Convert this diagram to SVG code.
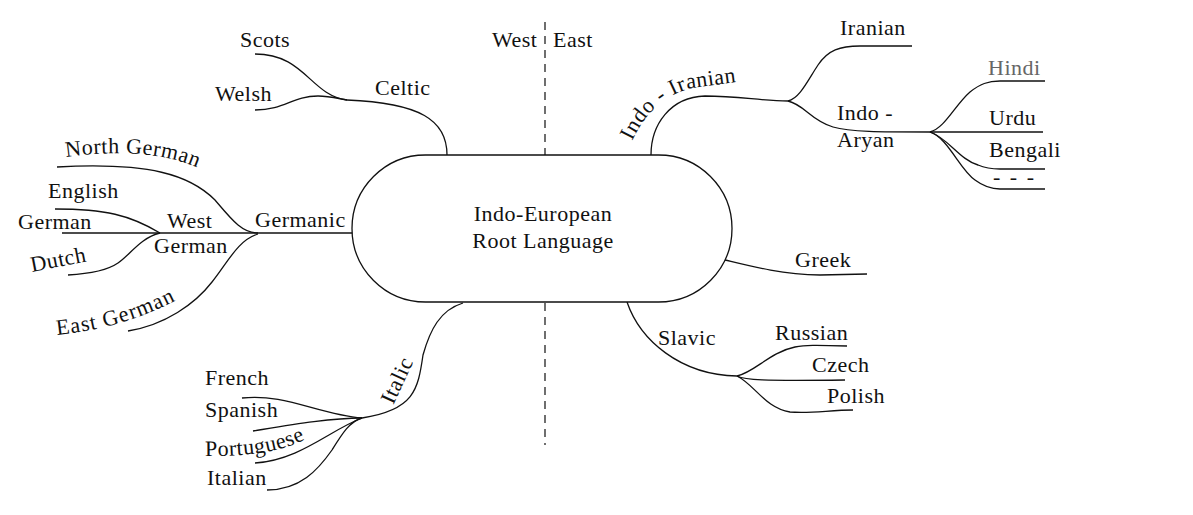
<svg xmlns="http://www.w3.org/2000/svg" xmlns:xlink="http://www.w3.org/1999/xlink" width="1193" height="515" viewBox="0 0 1193 515">
<style>
  text { font-family: "Liberation Serif", "Times New Roman", serif; font-size: 22px; letter-spacing: 0.5px; fill: #111; }
  .ln { fill: none; stroke: #111; stroke-width: 1.3; }
  .dash { fill: none; stroke: #222; stroke-width: 1.3; stroke-dasharray: 8 6; }
  .root { fill: #fff; stroke: #111; stroke-width: 1.3; }
  .mid { text-anchor: middle; }
</style>
<defs>
  <path id="pNorth" d="M 66 157 C 110 151, 165 150, 207 172"/>
  <path id="pEast" d="M 57 335 C 92 331, 135 324, 192 292"/>
  <path id="pPort" d="M 205 456 C 240 456, 278 455, 312 436"/>
  <path id="pItalic" d="M 392 408 L 418 352"/>
  <path id="pIndoIr" d="M 632 141 Q 652 98 692 88 L 752 80"/>
</defs>
<rect width="1193" height="515" fill="#fff"/>

<g id="divider">
  <path class="dash" d="M 545 22 L 545 155"/>
  <path class="dash" d="M 545 303 L 545 445"/>
  <text x="492" y="47">West</text>
  <text x="553" y="47">East</text>
</g>

<g id="connectors">
  <!-- Celtic -->
  <path class="ln" d="M 255 54 C 305 54, 310 95, 347 100"/>
  <path class="ln" d="M 255 110 C 285 110, 292 96, 318 96 C 330 96, 340 99, 347 100"/>
  <path class="ln" d="M 347 100 C 420 103, 447 120, 447 155"/>
  <!-- Germanic -->
  <path class="ln" d="M 62 233 L 353 233"/>
  <path class="ln" d="M 57 167 C 150 162, 190 175, 215 200 C 232 220, 242 233, 258 233"/>
  <path class="ln" d="M 55 209 C 105 209, 130 215, 160 233"/>
  <path class="ln" d="M 160 233 C 140 238, 130 255, 118 263 C 105 272, 85 274, 68 275"/>
  <path class="ln" d="M 258 234 C 238 240, 228 262, 212 282 C 195 304, 165 325, 128 331"/>
  <!-- Italic -->
  <path class="ln" d="M 463 303 C 440 310, 430 330, 423 355 C 418 390, 414 410, 362 418"/>
  <path class="ln" d="M 242 398 C 285 393, 320 415, 362 418"/>
  <path class="ln" d="M 253 431 C 290 425, 330 418, 362 418"/>
  <path class="ln" d="M 255 463 C 300 460, 330 430, 362 418"/>
  <path class="ln" d="M 267 490 C 300 490, 318 470, 332 450 C 342 434, 350 421, 362 418"/>
  <!-- Indo-Iranian -->
  <path class="ln" d="M 651 155 C 651 125, 670 97, 705 96 C 740 96, 760 101, 788 101"/>
  <path class="ln" d="M 788 101 C 800 98, 808 80, 818 65 C 828 50, 840 46, 860 46 L 912 46"/>
  <path class="ln" d="M 788 101 C 805 105, 810 120, 833 127 C 850 132, 880 132, 930 132"/>
  <path class="ln" d="M 930 132 C 945 128, 955 105, 970 92 C 980 84, 988 81, 1000 81 L 1045 81"/>
  <path class="ln" d="M 930 132 L 1043 132"/>
  <path class="ln" d="M 930 132 C 948 138, 960 160, 978 165 C 985 168, 990 169, 1000 169 L 1045 169"/>
  <path class="ln" d="M 930 132 C 948 138, 960 170, 975 180 C 983 186, 990 189, 1000 189 L 1045 189"/>
  <!-- Greek -->
  <path class="ln" d="M 725 260 C 750 266, 780 274, 820 275 L 867 274"/>
  <!-- Slavic -->
  <path class="ln" d="M 627 302 C 640 340, 680 375, 737 376"/>
  <path class="ln" d="M 737 376 C 755 372, 770 352, 795 347 C 805 345, 815 345, 847 346"/>
  <path class="ln" d="M 737 376 C 745 380, 760 381, 845 380"/>
  <path class="ln" d="M 737 376 C 755 385, 765 408, 790 412 C 810 414, 830 410, 853 410"/>
</g>

<g id="root">
  <rect class="root" x="352" y="155" width="380" height="147" rx="73.5" ry="73.5"/>
  <text class="mid" x="543" y="221">Indo-European</text>
  <text class="mid" x="543" y="248">Root Language</text>
</g>

<g id="celtic">
  <text x="375" y="95">Celtic</text>
  <text x="240" y="47">Scots</text>
  <text x="215" y="101">Welsh</text>
</g>

<g id="germanic">
  <text x="255" y="227">Germanic</text>
  <text><textPath xlink:href="#pNorth" href="#pNorth">North German</textPath></text>
  <text x="48" y="198">English</text>
  <text x="18" y="229">German</text>
  <text x="167" y="228">West</text>
  <text x="154" y="253">German</text>
  <text x="32" y="272" transform="rotate(-11 32 272)">Dutch</text>
  <text style="letter-spacing:1px"><textPath xlink:href="#pEast" href="#pEast">East German</textPath></text>
</g>

<g id="italic">
  <text><textPath xlink:href="#pItalic" href="#pItalic" startOffset="3">Italic</textPath></text>
  <text x="205" y="385">French</text>
  <text x="205" y="417">Spanish</text>
  <text><textPath xlink:href="#pPort" href="#pPort">Portuguese</textPath></text>
  <text x="207" y="485">Italian</text>
</g>

<g id="indo-iranian">
  <text><textPath xlink:href="#pIndoIr" href="#pIndoIr">Indo - Iranian</textPath></text>
  <text x="840" y="35">Iranian</text>
  <text x="837" y="120">Indo -</text>
  <text x="837" y="147">Aryan</text>
  <text x="988" y="75" style="fill:#666">Hindi</text>
  <text x="989" y="125">Urdu</text>
  <text x="989" y="157">Bengali</text>
  <text x="993" y="184" style="letter-spacing:2px">- - -</text>
</g>

<g id="greek">
  <text x="795" y="267">Greek</text>
</g>

<g id="slavic">
  <text x="658" y="345">Slavic</text>
  <text x="775" y="340">Russian</text>
  <text x="812" y="372">Czech</text>
  <text x="827" y="403">Polish</text>
</g>
</svg>
